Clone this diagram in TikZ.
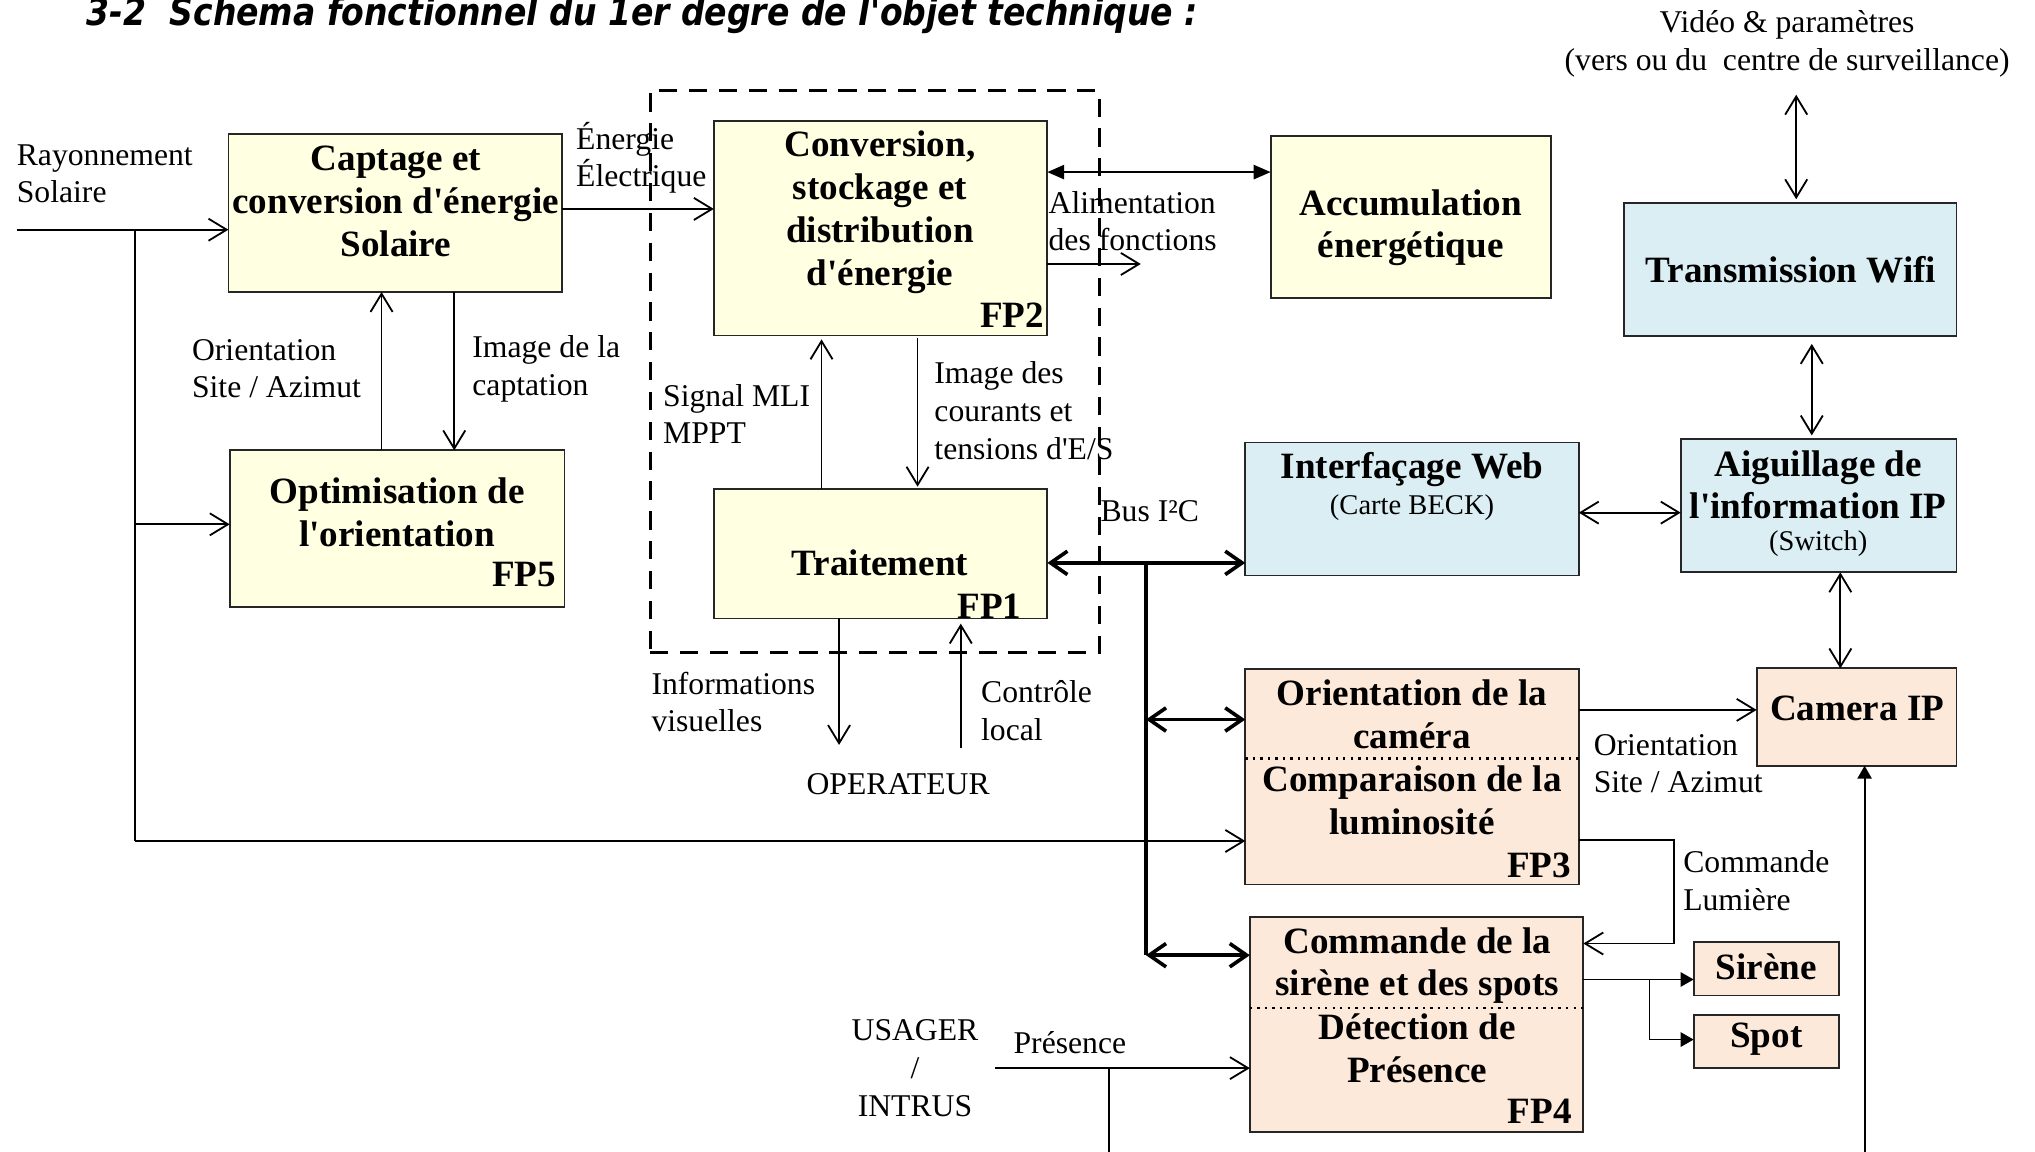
\documentclass[tikz,border=0pt]{standalone}
\usepackage{graphicx}
\usepackage{fontspec}
\setmainfont{Liberation Serif}[Ligatures=TeXOff]
\newfontfamily\titlefont{DejaVu Sans}[Ligatures=TeXOff]
\usetikzlibrary{arrows.meta,fit}
\definecolor{boxyellow}{HTML}{FFFFE1}
\definecolor{boxblue}{HTML}{DAEEF3}
\definecolor{boxpeach}{HTML}{FDE9D9}
\begin{document}
\begin{tikzpicture}[x=0.5pt,y=-0.5pt,
  every node/.style={inner sep=0pt, outer sep=0pt},
  bx/.style={draw=black!85, line width=0.7pt, inner sep=0pt},
  ybox/.style={bx, fill=boxyellow},
  bbox/.style={bx, fill=boxblue},
  pbox/.style={bx, fill=boxpeach},
  btxt/.style={font=\fontsize{14.3}{16.5}\selectfont\bfseries, align=center},
  lbl/.style={font=\fontsize{12.2}{14.5}\selectfont, align=left, anchor=west},
  subtxt/.style={font=\fontsize{11}{13}\selectfont},
  fplbl/.style={font=\fontsize{14.3}{16.5}\selectfont\bfseries, anchor=east},
  ar/.style={line width=0.7pt, -{Straight Barb[length=7pt,width=8.5pt]}},
  dar/.style={line width=0.7pt, {Straight Barb[length=7pt,width=8.5pt]}-{Straight Barb[length=7pt,width=8.5pt]}},
  bus/.style={line width=1.4pt, {Straight Barb[length=6.5pt,width=9pt]}-{Straight Barb[length=6.5pt,width=9pt]}},
  far/.style={line width=0.7pt, -{Triangle[length=5pt,width=5.5pt]}},
  dfar/.style={line width=0.7pt, {Triangle[length=6.5pt,width=5.5pt]}-{Triangle[length=6.5pt,width=5.5pt]}},
  ln/.style={line width=0.7pt},
]
\useasboundingbox (0,0) rectangle (1568,887);
\clip (0,0) rectangle (1568,887);

% title
\node[anchor=base west, font=\titlefont\bfseries\itshape\fontsize{11}{13}\selectfont] (title) at (67,20)
  {\scalebox{1}[1.15]{\resizebox{428pt}{!}{3-2\ \ Schema fonctionnel du 1er degre de l'objet technique :}}};

% dashed group
\node[draw, line width=1.2pt, dash pattern=on 7pt off 4.5pt, fit={(501,70) (847,503)}, inner sep=0pt] (grp) {};

% boxes
\node[ybox, fit={(176,103) (433,225)}] (capt) {};
\node[ybox, fit={(177,347) (435,468)}] (opt) {};
\node[ybox, fit={(550,93) (807,258.5)}] (conv) {};
\node[ybox, fit={(550,377) (807,476.5)}] (trait) {};
\node[ybox, fit={(979,105) (1195,229.5)}] (acc) {};
\node[bbox, fit={(1251.5,156.5) (1507.5,259)}] (trans) {};
\node[bbox, fit={(959.5,341) (1216.5,443.5)}] (web) {};
\node[bbox, fit={(1295,338.5) (1507.5,441)}] (aig) {};
\node[pbox, fit={(959.5,515.7) (1216.5,681.5)}] (fp3) {};
\node[pbox, fit={(963,706.5) (1220,872)}] (fp4) {};
\node[pbox, fit={(1353.5,515) (1507.5,590)}] (cam) {};
\node[pbox, fit={(1305,726) (1417,767)}] (sir) {};
\node[pbox, fit={(1305,782) (1417,823)}] (spot) {};

% dotted separators
\draw[dotted, line width=0.9pt] (fp3.west |- 0,584.4) -- (fp3.east |- 0,584.4);
\draw[dotted, line width=0.9pt] (fp4.west |- 0,776.6) -- (fp4.east |- 0,776.6);

% box texts
\node[btxt] (capt-t) at (305,155) {Captage et\\conversion d'énergie\\Solaire};
\node[btxt] (opt-t) at (306,394.5) {Optimisation de\\l'orientation};
\node[fplbl] (fp5) at (428.5,443) {FP5};
\node[btxt] (conv-t) at (678,163.5) {Conversion,\\stockage et\\distribution\\d'énergie};
\node[fplbl] (fp2) at (804.5,243) {FP2};
\node[btxt] (trait-t) at (678,434) {Traitement};
\node[fplbl] (fp1) at (787,467) {FP1};
\node[btxt] (acc-t) at (1087,175.5) {Accumulation\\énergétique};
\node[btxt] (trans-t) at (1380,208) {Transmission Wifi};
\node[btxt] (web-t) at (1088,362) {Interfaçage Web};
\node[subtxt] (web-s) at (1088,391) {(Carte BECK)};
\node[btxt] (aig-t) at (1401,373.5) {Aiguillage de\\l'information IP};
\node[subtxt] (aig-s) at (1401,419) {(Switch)};
\node[btxt] (fp3-a) at (1088,550.5) {Orientation de la\\caméra};
\node[btxt] (fp3-b) at (1088,616.5) {Comparaison de la\\luminosité};
\node[fplbl] (fp3-l) at (1210.5,667) {FP3};
\node[btxt] (fp4-a) at (1092,744) {Commande de la\\sirène et des spots};
\node[btxt] (fp4-b) at (1092,807.5) {Détection de\\Présence};
\node[fplbl] (fp4-l) at (1211,856.6) {FP4};
\node[btxt] (cam-t) at (1431,546) {Camera IP};
\node[btxt] (sir-t) at (1361,745) {Sirène};
\node[btxt] (spot-t) at (1361,801) {Spot};

% free labels
\node[lbl] (l-ray) at (13,134) {Rayonnement\\Solaire};
\node[lbl] (l-ener) at (444,121.5) {Énergie\\Électrique};
\node[lbl] (l-ori1) at (148,284) {Orientation\\Site / Azimut};
\node[lbl] (l-img1) at (364,284) {Image de la\\captation};
\node[lbl] (l-alim) at (808,170.5) {Alimentation\\des fonctions};
\node[lbl] (l-mli) at (511,319) {Signal MLI\\MPPT};
\node[lbl] (l-img2) at (720,316.5) {Image des\\courants et\\tensions d'E/S};
\node[lbl] (l-bus) at (848,394) {Bus I²C};
\node[lbl] (l-info) at (502,541) {Informations\\visuelles};
\node[lbl] (l-ctrl) at (756,547.5) {Contrôle\\local};
\node[lbl, anchor=center] (l-op) at (692,604) {OPERATEUR};
\node[lbl] (l-ori2) at (1228,588.5) {Orientation\\Site / Azimut};
\node[lbl] (l-cmd) at (1297,678.5) {Commande\\Lumière};
\node[lbl, anchor=center, align=center] (l-usr) at (705,823) {USAGER\\/\\INTRUS};
\node[lbl] (l-pres) at (781,803) {Présence};
\node[lbl, anchor=center, align=center] (l-vid) at (1377,34) {Vidéo \& paramètres\\(vers ou du~~centre de surveillance)};

% coordinates
\coordinate (ray) at (13,177);
\coordinate (j1) at (104,177);
\coordinate (j2) at (104,404);
\coordinate (j3) at (104,648);
\coordinate (alim) at (879,203.4);
\coordinate (bt) at (883,433.7);
\coordinate (bm) at (883,554.4);
\coordinate (bb) at (883,736);
\coordinate (op1) at (646.5,574);
\coordinate (op2) at (740.3,576.5);
\coordinate (cl1) at (1290,647.3);
\coordinate (cl2) at (1290,727);
\coordinate (s1) at (1271,754.7);
\coordinate (s2) at (1271,801);
\coordinate (pr) at (766.7,823);
\coordinate (pb) at (854.5,823);
\coordinate (pbot) at (854.5,900);
\coordinate (cb) at (1436.7,900);
\coordinate (vid) at (1384,73);

% connectors
\draw[ar] (ray) -- (capt.west |- ray);
\draw[ln] (j1) -- (j3);
\draw[ar] (j2) -- (opt.west |- j2);
\draw[ar] (j3) -- (fp3.west |- j3);
\draw[ar] (opt.north -| 294,0) -- (capt.south -| 294,0);
\draw[ar] (capt.south -| 350,0) -- (opt.north -| 350,0);
\draw[ar] (capt.east |- 0,161) -- (conv.west |- 0,161);
\draw[dfar] (conv.east |- 0,132.6) -- (acc.west |- 0,132.6);
\draw[ar] (conv.east |- alim) -- (alim);
\draw[ar, shorten >=1.5pt] (trait.north -| 633,0) -- (conv.south -| 633,0);
\draw[ar, shorten <=1pt, shorten >=1pt] (conv.south -| 707,0) -- (trait.north -| 707,0);
\draw[bus] (trait.east |- bt) -- (web.west |- bt);
\draw[line width=1.4pt] (bt) -- (bb);
\draw[bus] (bm) -- (fp3.west |- bm);
\draw[bus] (bb) -- (fp4.west |- bb);
\draw[ar] (trait.south -| op1) -- (op1);
\draw[ar, shorten >=2pt] (op2) -- (trait.south -| op2);
\draw[ar] (fp3.east |- 0,547) -- (cam.west |- 0,547);
\draw[ar] (fp3.east |- cl1) -- (cl1) -- (cl2) -- (fp4.east |- cl2);
\draw[far] (fp4.east |- s1) -- (sir.west |- s1);
\draw[far] (s1) -- (s2) -- (spot.west |- s2);
\draw[ar] (pr) -- (fp4.west |- pr);
\draw[ln] (pb) -- (pbot);
\draw[far] (cb) -- (cam.south -| cb);
\draw[dar] (aig.south -| 1418,0) -- (cam.north -| 1418,0);
\draw[dar, shorten <=3pt, shorten >=1.5pt] (trans.south -| 1396,0) -- (aig.north -| 1396,0);
\draw[dar, shorten >=1.5pt] (vid) -- (trans.north -| vid);
\draw[dar] (web.east |- 0,395) -- (aig.west |- 0,395);
\end{tikzpicture}
\end{document}
